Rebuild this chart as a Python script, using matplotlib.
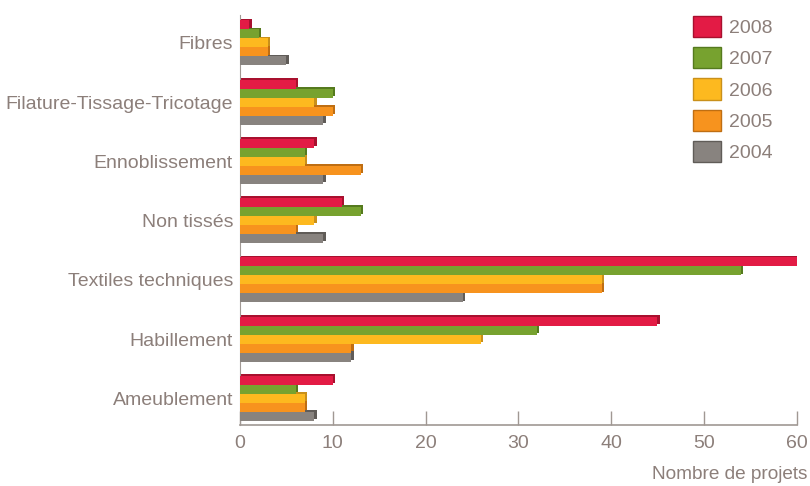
import matplotlib
matplotlib.use("Agg")
import matplotlib.pyplot as plt
import numpy as np
from matplotlib.patches import Patch

categories = ["Fibres", "Filature-Tissage-Tricotage", "Ennoblissement", "Non tissés",
              "Textiles techniques", "Habillement", "Ameublement"]
years = ["2008", "2007", "2006", "2005", "2004"]
v2008 = [1, 6, 8, 11, 60, 45, 10]
v2007 = [2, 10, 7, 13, 54, 32, 6]
v2006 = [3, 8, 7, 8, 39, 26, 7]
v2005 = [3, 10, 13, 6, 39, 12, 7]
v2004 = [5, 9, 9, 9, 24, 12, 8]
series = [v2008, v2007, v2006, v2005, v2004]
colors = ["#E31B45", "#77A22F", "#FDB91F", "#F7931E", "#88837F"]
dark = ["#A8102E", "#557A1E", "#C9901A", "#BF6E12", "#605C58"]
xticks = [0, 10, 20, 30, 40, 50, 60]

txt = "#8C7F7A"
plt.rcParams['font.family'] = ['Liberation Sans', 'DejaVu Sans']

fig = plt.figure(figsize=(8.1, 4.86), dpi=100)
ax = fig.add_axes([240/810, 1-425/486, 557/810, 410/486])

h = 0.152
y = np.arange(len(categories))
for i, (vals, c, d) in enumerate(zip(series, colors, dark)):
    off = (i - 2) * h
    ax.barh(y + off - 0.03, np.array(vals) + 0.25, height=h, left=0, color=d, zorder=2)
    ax.barh(y + off, vals, height=h, color=c, zorder=3)

ax.set_xlim(0, 60.05)
ax.set_ylim(6.45, -0.47)
ax.set_yticks(y)
ax.set_yticklabels(categories, fontsize=14, color=txt)
ax.set_xticks(xticks)
ax.set_xticklabels([str(t) for t in xticks], fontsize=14, color=txt)
ax.tick_params(axis='y', length=0, pad=5)
ax.tick_params(axis='x', direction='in', length=10, color="#A09893", width=1, pad=7)
for s in ['top', 'right']:
    ax.spines[s].set_visible(False)
ax.spines['left'].set_color("#A09893")
ax.spines['bottom'].set_color("#A09893")
ax.spines['bottom'].set_linewidth(1.2)

fig.text(807/810, 1-474/486, "Nombre de projets", ha='right', va='center',
         fontsize=13.7, color=txt)

handles = [Patch(facecolor=c, edgecolor=d, linewidth=1) for c, d in zip(colors, dark)]
leg = fig.legend(handles, years, loc='upper left', bbox_to_anchor=(685/810, 1-8/486),
                 frameon=False, fontsize=14, handlelength=1.45, handleheight=1.3,
                 labelspacing=0.52, handletextpad=0.4, borderaxespad=0)
for t in leg.get_texts():
    t.set_color(txt)

fig.savefig("out.png", dpi=100)
